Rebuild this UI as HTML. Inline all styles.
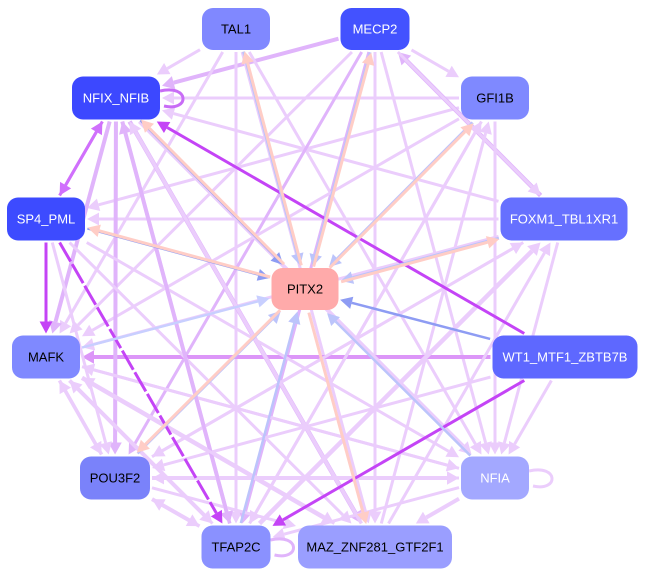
<!DOCTYPE html>
<html><head><meta charset="utf-8"><style>
html,body{margin:0;padding:0;background:#fff;width:645px;height:578px;overflow:hidden}
svg{display:block}
text{font-family:"Liberation Sans",sans-serif;font-size:13px}
</style></head><body>
<svg id="s" width="645" height="578" xmlns="http://www.w3.org/2000/svg"></svg>
<script>
const N={
TAL1:[236,29,68,42,'#8088ff','#000'],
MECP2:[375,29,69,42,'#4352ff','#fff'],
NFIX_NFIB:[116,98,88,43,'#3c48ff','#fff'],
GFI1B:[495,98,68,43,'#7f89ff','#000'],
SP4_PML:[46,219,78,43,'#3d4bff','#fff'],
FOXM1_TBL1XR1:[564,219,127,43,'#6670ff','#fff'],
PITX2:[305,289,67,42,'#ffaaaa','#000'],
MAFK:[46,357,68,43,'#7f89ff','#000'],
WT1_MTF1_ZBTB7B:[565,357,145,43,'#5e68ff','#fff'],
POU3F2:[115,478,70,43,'#7a82fa','#000'],
NFIA:[495,478,68,43,'#a3a8ff','#fff'],
TFAP2C:[236,547,69,43,'#8a91ff','#000'],
MAZ_ZNF281_GTF2F1:[375,547,154,43,'#9a9eff','#000']};
const L='#ebcdfc',M='#e0b4fb',D='#c444f6',B='#bcc4fb',B2='#8e9cf3',P='#ffcdc6';
const E=[
['TAL1','NFIX_NFIB',L,3],['MECP2','NFIX_NFIB',M,4],['MECP2','GFI1B',L,3],['GFI1B','NFIX_NFIB',L,3],['GFI1B','SP4_PML',L,3],
['FOXM1_TBL1XR1','NFIX_NFIB',L,3],['FOXM1_TBL1XR1','SP4_PML',L,3],['FOXM1_TBL1XR1','MECP2',M,4.5],['MECP2','FOXM1_TBL1XR1',L,3],
['TAL1','MAZ_ZNF281_GTF2F1',L,3],['TAL1','NFIA',L,3],['TAL1','MAFK',L,3],['TAL1','TFAP2C',L,3],['MECP2','MAFK',L,3],['MECP2','POU3F2',M,3],
['MECP2','NFIA',L,3],['MECP2','MAZ_ZNF281_GTF2F1',L,3],['MECP2','TFAP2C',M,3],['GFI1B','NFIA',L,3],['GFI1B','TFAP2C',L,3],['GFI1B','MAFK',L,3],
['FOXM1_TBL1XR1','POU3F2',L,3],['FOXM1_TBL1XR1','MAFK',L,3],['FOXM1_TBL1XR1','NFIA',L,3],['WT1_MTF1_ZBTB7B','MAFK','#dc96f8',4],['WT1_MTF1_ZBTB7B','NFIA',L,3],
['WT1_MTF1_ZBTB7B','POU3F2',L,3],['NFIX_NFIB','TFAP2C',M,4],['NFIX_NFIB','MAZ_ZNF281_GTF2F1',M,4.5],['NFIX_NFIB','NFIA',L,4],['NFIX_NFIB','POU3F2',M,4],
['NFIX_NFIB','MAFK',M,4],['SP4_PML','NFIA',L,3],['SP4_PML','MAZ_ZNF281_GTF2F1',L,3],['MAFK','NFIA',L,3],['MAFK','MAZ_ZNF281_GTF2F1',L,4.5],
['MAFK','TFAP2C',L,4],['MAFK','POU3F2',L,3.5],['POU3F2','MAFK',L,3.5],['POU3F2','NFIA',L,4],['NFIA','POU3F2',L,3],['POU3F2','TFAP2C',L,4],['TFAP2C','POU3F2',L,3.5],
['POU3F2','MAZ_ZNF281_GTF2F1',L,3],['NFIA','TFAP2C',L,3],['NFIA','MAZ_ZNF281_GTF2F1',L,4],['NFIA','MAFK',L,3],['TFAP2C','GFI1B',L,3],
['TFAP2C','FOXM1_TBL1XR1',L,4.5],['MAZ_ZNF281_GTF2F1','GFI1B',L,3],['MAZ_ZNF281_GTF2F1','FOXM1_TBL1XR1',L,3],['POU3F2','FOXM1_TBL1XR1',L,3],
['TFAP2C','NFIX_NFIB',M,3.5],['MAZ_ZNF281_GTF2F1','NFIX_NFIB',L,3.5],['TFAP2C','MAFK',L,3],['MAZ_ZNF281_GTF2F1','MAFK',L,3],['SP4_PML','POU3F2',L,3],
['WT1_MTF1_ZBTB7B','TFAP2C',D,3],['WT1_MTF1_ZBTB7B','NFIX_NFIB',D,3],['SP4_PML','TFAP2C',D,3],['SP4_PML','MAFK',D,3],['NFIX_NFIB','SP4_PML','#d070fc',3],['SP4_PML','NFIX_NFIB','#d070fc',3],
['NFIX_NFIB','PITX2',B2,2],['SP4_PML','PITX2',B2,2],['MECP2','PITX2',B,3],['TAL1','PITX2',B,3],['GFI1B','PITX2',B,3],['FOXM1_TBL1XR1','PITX2',B,3],
['WT1_MTF1_ZBTB7B','PITX2',B2,2.5],['MAFK','PITX2','#c8cfff',2.5],['TFAP2C','PITX2',B,2.5],['NFIA','PITX2',B,2.5],['POU3F2','PITX2',B,2.5],
['PITX2','SP4_PML',P,3],['PITX2','NFIX_NFIB',P,3],['PITX2','TAL1',P,3],['PITX2','MECP2',P,3],['PITX2','GFI1B',P,3],['PITX2','FOXM1_TBL1XR1',P,3],['PITX2','POU3F2',P,3],['PITX2','MAZ_ZNF281_GTF2F1',P,3]];
const s=document.getElementById('s');const ns='http://www.w3.org/2000/svg';
function el(t,a){const e=document.createElementNS(ns,t);for(const k in a)e.setAttribute(k,a[k]);s.appendChild(e);return e;}
function clip(n,dx,dy){const [cx,cy,w,h]=N[n];const tx=dx?(w/2+2)/Math.abs(dx):1e9,ty=dy?(h/2+2)/Math.abs(dy):1e9;const t=Math.min(tx,ty);return [cx+dx*t,cy+dy*t];}
E.forEach(([a,b,c,w])=>{const A=N[a],Bn=N[b];let dx=Bn[0]-A[0],dy=Bn[1]-A[1];const len=Math.hypot(dx,dy);const ux=dx/len,uy=dy/len;
const off=(c===P?2.5:(c===B||c===B2)?-1.5:0);const px=-uy*off,py=ux*off;
const s0=clip(a,ux,uy),e0=clip(b,-ux,-uy);const x1=s0[0]+px,y1=s0[1]+py,x2=e0[0]+px,y2=e0[1]+py;
const al=12,aw=5.5+w*0.3;const bx=x2-ux*al,by=y2-uy*al;
el('line',{x1,y1,x2:bx,y2:by,stroke:c,'stroke-width':w,'stroke-dasharray':(a==='SP4_PML'&&b==='TFAP2C')?'22 3':'none'});
el('polygon',{points:`${x2},${y2} ${bx-uy*aw},${by+ux*aw} ${bx+uy*aw},${by-ux*aw}`,fill:c});});
function loop(n,c){const [cx,cy,w]=N[n];const x=cx+w/2;el('path',{d:`M${x},${cy-7} C${x+30},${cy-14} ${x+30},${cy+14} ${x+4},${cy+8}`,fill:'none',stroke:c,'stroke-width':3});}
loop('NFIX_NFIB','#c86cf6');loop('NFIA',L);loop('TFAP2C',M);
for(const k in N){const [cx,cy,w,h,f,tc]=N[k];el('rect',{x:cx-w/2,y:cy-h/2,width:w,height:h,rx:11,fill:f});const t=el('text',{x:cx,y:cy+4.5,'text-anchor':'middle',fill:tc});t.textContent=k;}
</script>
</body></html>
